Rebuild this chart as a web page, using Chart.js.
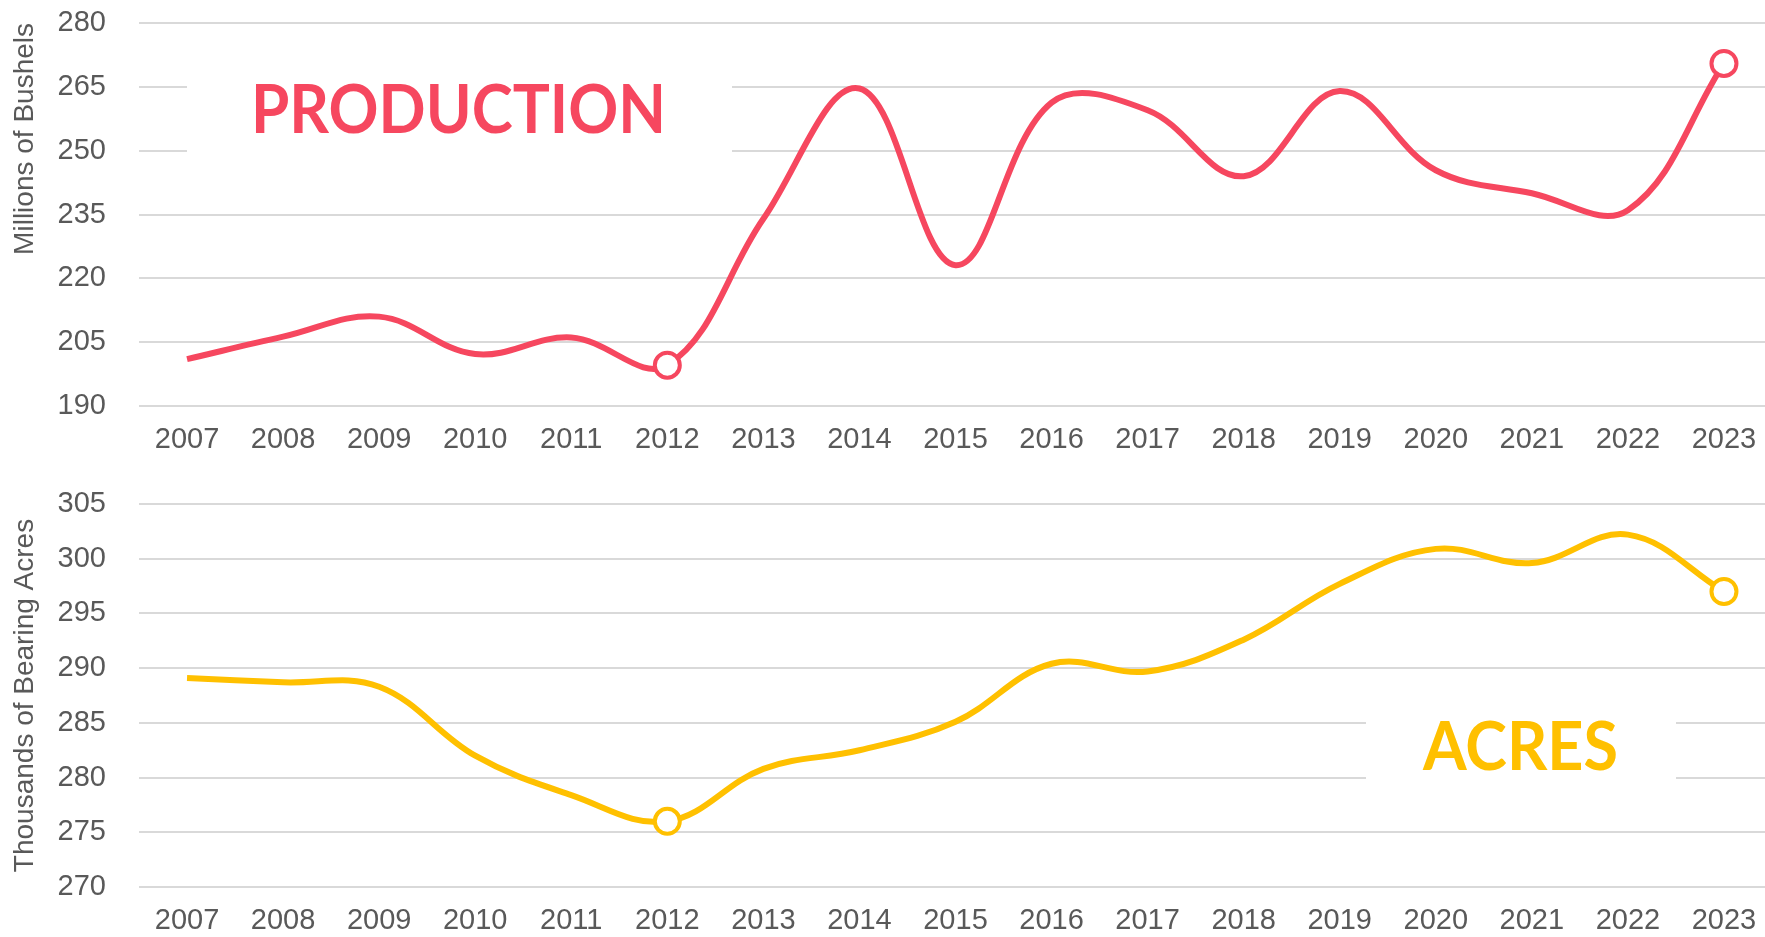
<!DOCTYPE html>
<html>
<head>
<meta charset="utf-8">
<script src="https://cdn.jsdelivr.net/npm/chart.js@4.4.1/dist/chart.umd.min.js"></script>
<style>
	html, body { margin: 0; padding: 0; background: #fff; overflow: hidden; }
	.panel { position: absolute; left: 0; }
	#production-panel { top: 0; }
	#acres-panel { top: 467px; }
</style>
</head>
<body>
<div class="panel" id="production-panel"><canvas id="production-chart" width="1772" height="470"></canvas></div>
<div class="panel" id="acres-panel"><canvas id="acres-chart" width="1772" height="470"></canvas></div>
<script>
const years = [ '2007', '2008', '2009', '2010', '2011', '2012', '2013', '2014', '2015', '2016', '2017', '2018', '2019', '2020', '2021', '2022', '2023' ];

// Millions of bushels
const production = [ 201.0, 206.3, 211.0, 202.2, 206.1, 199.6, 234.0, 264.6, 223.1, 261.3, 259.5, 244.0, 264.0, 245.4, 240.0, 236.0, 270.5 ];

// Thousands of bearing acres
const acres = [ 289.1, 288.7, 288.3, 282.0, 278.4, 276.0, 280.8, 282.5, 285.1, 290.4, 289.7, 292.6, 297.7, 300.9, 299.6, 302.2, 297.0 ];

const markedYears = [ '2012', '2023' ];

const productionTicks = { min: 190, max: 280, step: 15 };
const acresTicks = { min: 270, max: 305, step: 5 };

const PINK = '#F6475F';
const GOLD = '#FFC000';
const GREY_TEXT = '#595959';
const GRID = '#D9D9D9';

Chart.defaults.font.family = '"Liberation Sans", Arial, sans-serif';
Chart.defaults.color = GREY_TEXT;

// White box with a big label, painted over the grid but under the line
const labelBox = {
	id: 'labelBox',
	beforeDatasetsDraw( chart, args, opts ) {
		const { ctx } = chart;
		ctx.save();
		ctx.fillStyle = '#fff';
		ctx.fillRect( opts.box[ 0 ], opts.box[ 1 ], opts.box[ 2 ], opts.box[ 3 ] );
		ctx.font = 'bold ' + opts.size + 'px Lato, "Open Sans", sans-serif';
		ctx.fillStyle = opts.color;
		ctx.textBaseline = 'alphabetic';
		const w = ctx.measureText( opts.text ).width;
		ctx.translate( opts.x, opts.y );
		ctx.scale( opts.width / w, 1 );
		ctx.fillText( opts.text, 0, 0 );
		ctx.restore();
	},
};

const makeChart = ( id, cfg ) => {
	const radius = years.map( ( y ) => ( markedYears.includes( y ) ? 12.5 : 0 ) );
	return new Chart( document.getElementById( id ), {
		type: 'line',
		data: {
			labels: years,
			datasets: [
				{
					label: cfg.label,
					data: cfg.data,
					borderColor: cfg.color,
					borderWidth: 6,
					tension: 0.38,
					pointRadius: radius,
					pointBackgroundColor: '#fff',
					pointBorderColor: cfg.color,
					pointBorderWidth: 4,
				},
			],
		},
		options: {
			responsive: false,
			animation: false,
			layout: {
				autoPadding: false,
				padding: { top: cfg.padTop, left: 0, right: 0, bottom: 0 },
			},
			plugins: {
				legend: { display: false },
				tooltip: { enabled: false },
				labelBox: cfg.box,
			},
			scales: {
				x: {
					offset: true,
					// tick marks kept invisible: they only push the labels down
					grid: { display: false, drawTicks: true, tickLength: 17 },
					border: { display: false },
					ticks: { font: { size: 29 }, padding: 0, maxRotation: 0, autoSkip: false },
					afterFit: ( scale ) => {
						scale.height = cfg.xHeight;
					},
				},
				y: {
					min: cfg.ticks.min,
					max: cfg.ticks.max,
					grid: { color: GRID, lineWidth: 2, drawTicks: true, tickLength: 33, tickColor: 'rgba(0,0,0,0)' },
					border: { display: false },
					ticks: { stepSize: cfg.ticks.step, font: { size: 29 }, padding: 0 },
					title: {
						display: true,
						text: cfg.title,
						align: cfg.titleAlign,
						font: { size: 28 },
						color: GREY_TEXT,
						padding: { top: 8, bottom: 0 },
					},
					afterFit: ( scale ) => {
						scale.width = 139;
					},
				},
			},
		},
		plugins: [ labelBox ],
	} );
};

makeChart( 'production-chart', {
	label: 'Production',
	data: production,
	color: PINK,
	ticks: productionTicks,
	title: 'Millions of Bushels',
	titleAlign: 'end',
	padTop: 23,
	xHeight: 64,
	box: { text: 'PRODUCTION', color: PINK, size: 66, x: 251, y: 133, width: 415, box: [ 187, 50, 545, 135 ] },
} );

makeChart( 'acres-chart', {
	label: 'Acres',
	data: acres,
	color: GOLD,
	ticks: acresTicks,
	title: 'Thousands of Bearing Acres',
	titleAlign: 'center',
	padTop: 37,
	xHeight: 50,
	box: { text: 'ACRES', color: GOLD, size: 66, x: 1423, y: 303, width: 195, box: [ 1366, 225, 310, 115 ] },
} );
</script>
</body>
</html>
